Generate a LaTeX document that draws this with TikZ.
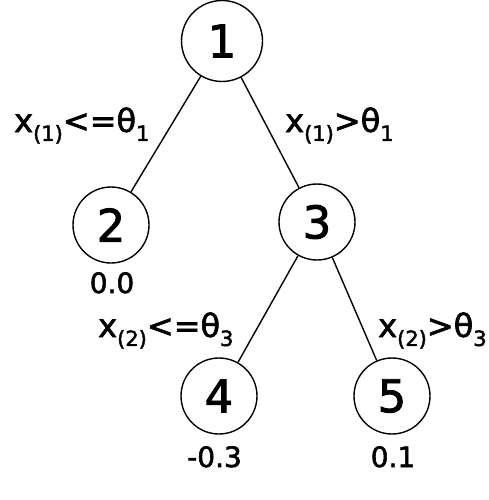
\documentclass[tikz,border=0pt]{standalone}
\usepackage{fontspec}
\setmainfont{DejaVu Sans}[FakeBold=2]
\newcommand{\sbx}[1]{\raisebox{-0.28em}{\fontsize{21}{21}\selectfont #1}}
\begin{document}
\begin{tikzpicture}[x=1pt,y=-1pt,
  tnode/.style={circle,draw,line width=1.4pt,inner sep=0pt,minimum size=76pt,font=\fontsize{45}{45}\selectfont},
  tedge/.style={line width=1.4pt},
  elab/.style={anchor=base west,inner sep=0pt,font=\fontsize{32}{32}\selectfont},
  vlab/.style={anchor=base,inner sep=0pt,font=\fontsize{28}{28}\selectfont}]
\useasboundingbox (0,0) rectangle (488,500);
\node[tnode,minimum size=81pt] (n1) at (222,41) {1};
\node[tnode] (n2) at (111,225) {2};
\node[tnode] (n3) at (317,222) {3};
\node[tnode] (n4) at (219,396) {4};
\node[tnode] (n5) at (392,396) {5};
\draw[tedge] (n1) -- (n2);
\draw[tedge] (n1) -- (n3);
\draw[tedge] (n3) -- (n4);
\draw[tedge] (n3) -- (n5);
\node[elab] (l12) at (14,132) {x\sbx{(1)}<=θ\sbx{1}};
\node[elab] (l13) at (285,132) {x\sbx{(1)}>θ\sbx{1}};
\node[elab] (l34) at (98,337) {x\sbx{(2)}<=θ\sbx{3}};
\node[elab] (l35) at (378,337) {x\sbx{(2)}>θ\sbx{3}};
\node[vlab] (v2) at (112,293) {0.0};
\node[vlab] (v4) at (214.5,467) {-0.3};
\node[vlab] (v5) at (393,467) {0.1};
\end{tikzpicture}
\end{document}
